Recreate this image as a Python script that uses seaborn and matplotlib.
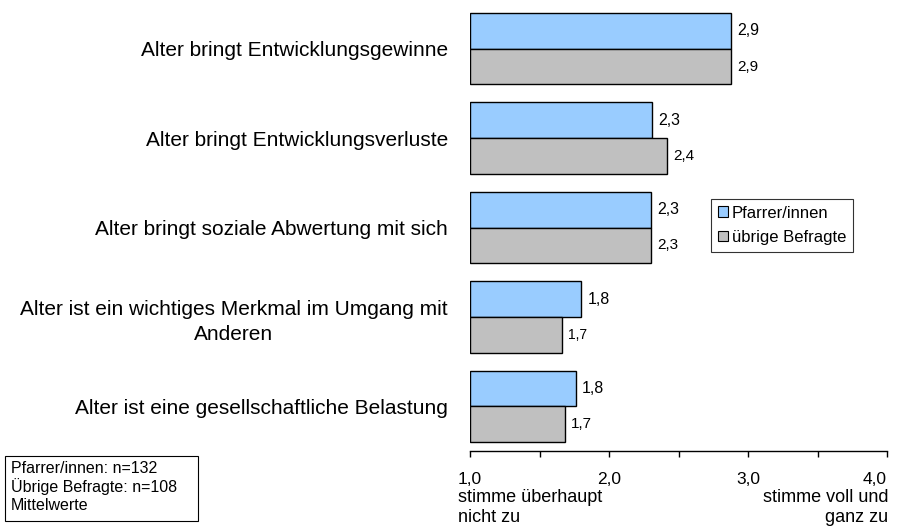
import matplotlib
matplotlib.use("Agg")
import matplotlib.pyplot as plt
import seaborn as sns
import pandas as pd
from matplotlib.patches import Patch, Rectangle

# Survey items (mean agreement, 1 = disagree completely ... 4 = agree completely)
items = [
    "Alter bringt Entwicklungsgewinne",
    "Alter bringt Entwicklungsverluste",
    "Alter bringt soziale Abwertung mit sich",
    "Alter ist ein wichtiges Merkmal im Umgang mit\nAnderen",
    "Alter ist eine gesellschaftliche Belastung",
]
groups = ["Pfarrer/innen", "übrige Befragte"]
pfarrer = [2.88, 2.31, 2.30, 1.80, 1.76]
uebrige = [2.88, 2.42, 2.30, 1.66, 1.68]
tick_values = [1, 2, 3, 4]
tick_labels = ["1,0", "2,0", "3,0", "4,0"]
colors = ["#99CCFF", "#C0C0C0"]

df = pd.DataFrame({
    "item": items * 2,
    "gruppe": [groups[0]] * len(items) + [groups[1]] * len(items),
    "wert": pfarrer + uebrige,
})

sns.set_theme(style="white")
plt.rcParams["font.family"] = ["Liberation Sans", "DejaVu Sans"]
plt.rcParams["text.color"] = "black"
plt.rcParams["xtick.color"] = "black"
plt.rcParams["ytick.color"] = "black"
plt.rcParams["axes.labelcolor"] = "black"

fig = plt.figure(figsize=(9.05, 5.29), dpi=100)
ax = fig.add_axes([470 / 905, 1 - 451 / 529, (887 - 470) / 905, (451 - 4) / 529])

sns.barplot(data=df, y="item", x="wert", hue="gruppe", orient="h",
            palette=colors, saturation=1, edgecolor="black", linewidth=1.0,
            width=0.8, ax=ax, legend=False)

# Bars start at the scale origin 1,0 rather than 0
for cont in ax.containers:
    for bar in cont:
        w = bar.get_width()
        bar.set_x(1)
        bar.set_width(w - 1)

ax.set_xlim(1, 4)
ax.set_ylim(4.5, -0.5)

# Value labels in German decimal format
label_sizes = [[11.5, 11.5, 11.5, 11.5, 11.5], [11, 11, 11, 10, 11]]
for cont, vals, sizes in zip(ax.containers, [pfarrer, uebrige], label_sizes):
    for bar, v, fs in zip(cont, vals, sizes):
        ax.text(1 + bar.get_width() + 0.045, bar.get_y() + bar.get_height() / 2,
                f"{v:.1f}".replace(".", ","), va="center", ha="left",
                fontsize=fs, color="black")

for s in ["left", "top", "right"]:
    ax.spines[s].set_visible(False)
ax.spines["bottom"].set_color("black")
ax.spines["bottom"].set_linewidth(1.0)

ax.set_xticks(tick_values)
ax.set_xticklabels(tick_labels, fontsize=12.5)
ax.set_xticks([1.5, 2.5, 3.5], minor=True)
ax.tick_params(axis="x", which="both", direction="out", length=4, width=1,
               color="black", bottom=True, pad=11)
ax.get_xticklabels()[-1].set_ha("right")

ax.set_xlabel("")
ax.set_ylabel("")
ax.tick_params(axis="y", length=0, pad=16)
for lbl in ax.get_yticklabels():
    lbl.set_fontsize(15)
    lbl.set_multialignment("center")
    lbl.set_linespacing(1.4)

# Scale anchors under the axis
fig.text(458 / 905, 1 - 489 / 529, "stimme überhaupt\nnicht zu", ha="left", va="top",
         fontsize=13, linespacing=1.2)
fig.text(888 / 905, 1 - 489 / 529, "stimme voll und\nganz zu", ha="right", va="top",
         fontsize=13, linespacing=1.2, multialignment="right")

# Legend
handles = [Patch(facecolor=c, edgecolor="black", linewidth=0.8) for c in colors]
leg = fig.legend(handles, groups, loc="upper left",
                 bbox_to_anchor=(711 / 905, 1 - 199 / 529),
                 frameon=True, fancybox=False, edgecolor="black",
                 fontsize=12, handlelength=0.6, handleheight=0.6,
                 handletextpad=0.25, borderpad=0.4, labelspacing=0.55,
                 borderaxespad=0, labelcolor="black")
leg.get_frame().set_linewidth(0.8)

# Sample note with its frame
fig.patches.append(Rectangle((5 / 905, 1 - 521 / 529), 193 / 905, 65 / 529,
                             transform=fig.transFigure, facecolor="white",
                             edgecolor="black", linewidth=0.8))
fig.text(11 / 905, 1 - 461 / 529,
         "Pfarrer/innen: n=132\nÜbrige Befragte: n=108\nMittelwerte",
         ha="left", va="top", fontsize=11.5, linespacing=1.18)

fig.savefig("out.png", dpi=100)
